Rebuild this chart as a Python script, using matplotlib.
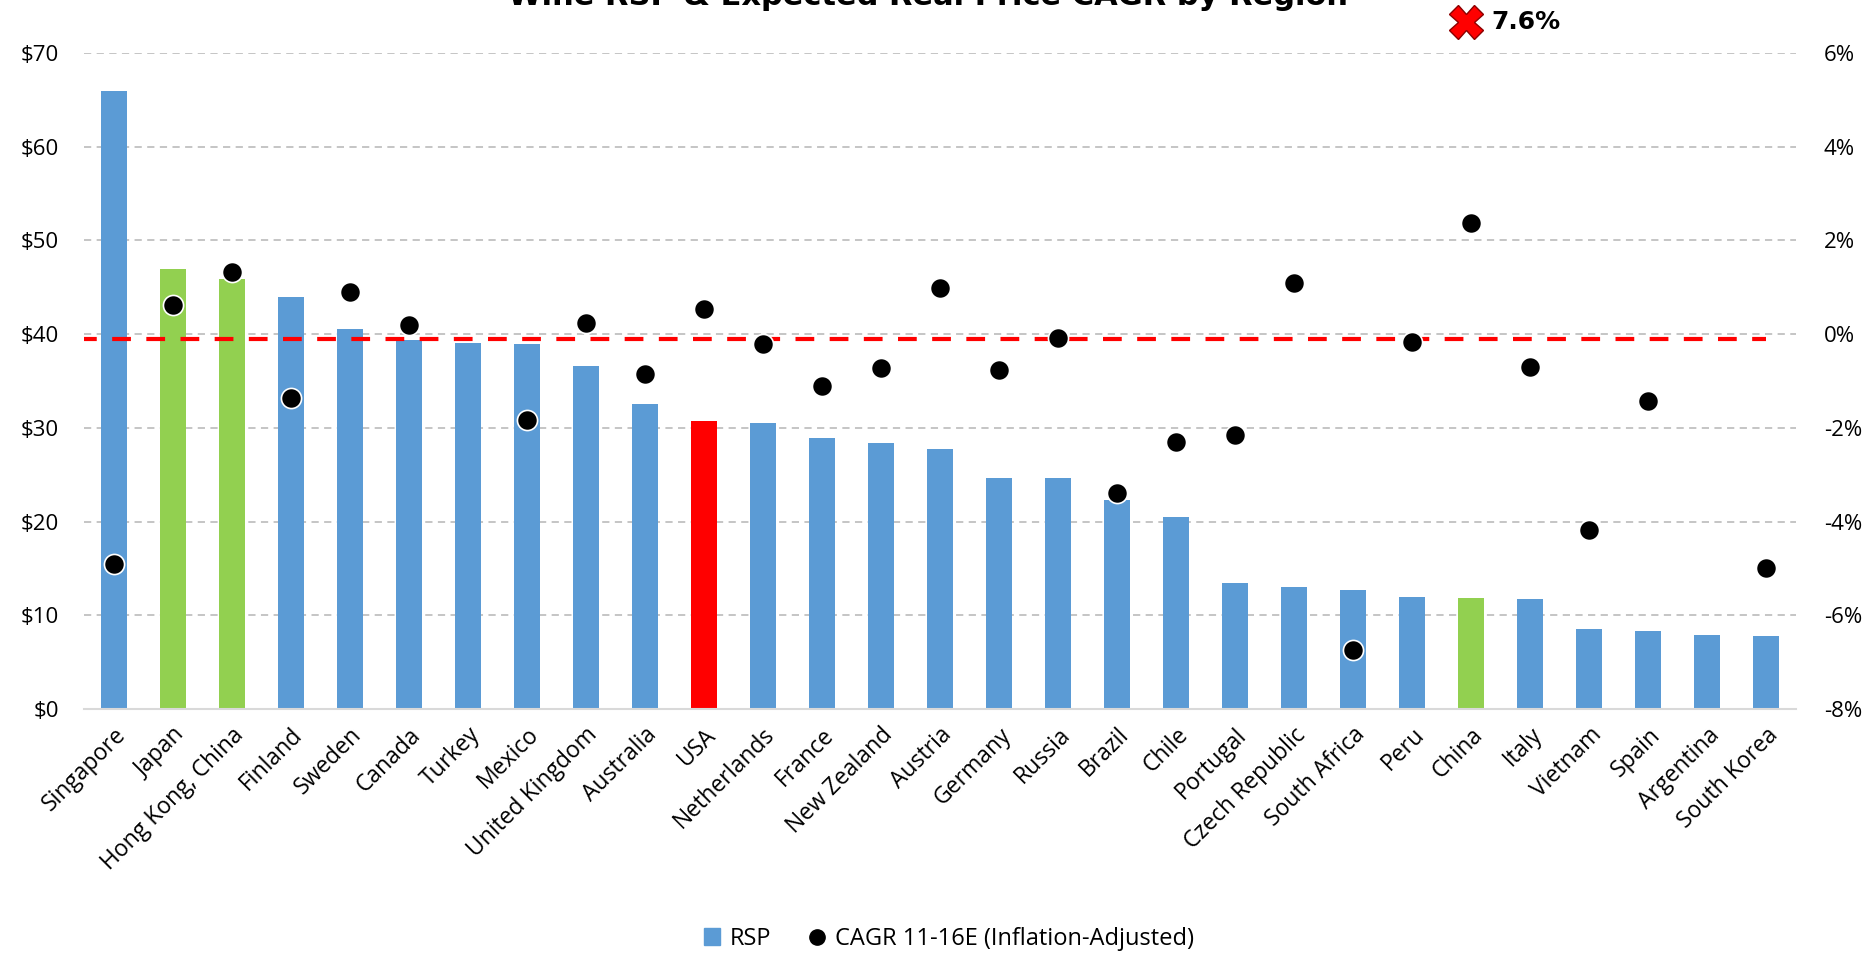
import numpy as np
import matplotlib.pyplot as plt
from matplotlib.patches import Patch
from matplotlib.lines import Line2D

plt.rcParams['font.family'] = ['Open Sans', 'DejaVu Sans']

# retail selling price per bottle (USD) and real price CAGR 2011-16E (%)
regions = ["Singapore", "Japan", "Hong Kong, China", "Finland", "Sweden", "Canada",
           "Turkey", "Mexico", "United Kingdom", "Australia", "USA", "Netherlands",
           "France", "New Zealand", "Austria", "Germany", "Russia", "Brazil", "Chile",
           "Portugal", "Czech Republic", "South Africa", "Peru", "China", "Italy",
           "Vietnam", "Spain", "Argentina", "South Korea"]
rsp = [65.9, 46.9, 45.9, 44.0, 40.5, 39.4, 39.1, 39.0, 36.6, 32.6, 30.7, 30.5,
       28.9, 28.4, 27.8, 24.7, 24.7, 22.3, 20.5, 13.4, 13.0, 12.7, 12.0, 11.9,
       11.7, 8.5, 8.3, 7.9, 7.8]
cagr = [-4.91, 0.62, 1.33, -1.37, 0.90, 0.19, np.nan, -1.83, 0.24, -0.86, 0.54, -0.20,
        -1.11, -0.73, 0.98, -0.76, -0.09, -3.38, -2.31, -2.16, 1.10, -6.75, -0.17, 2.38,
        -0.70, -4.17, -1.42, np.nan, -4.99]
asia_regions = ["Japan", "Hong Kong, China", "China"]
home_region = "USA"
avg_rsp = 39.5
china_outlier = 7.6

x = np.arange(len(regions))
colors = []
for r in regions:
    if r == home_region:
        colors.append("#FF0000")
    elif r in asia_regions:
        colors.append("#92D050")
    else:
        colors.append("#5B9BD5")

fig = plt.figure(figsize=(18.75, 9.74), dpi=100)
ax = fig.add_axes([0.0448, 0.272, 0.913, 0.6736])

ax.bar(x, rsp, width=0.44, color=colors, zorder=2)
ax.hlines(avg_rsp, -0.6, len(regions) - 1, colors="#FF0000", linewidth=3,
          linestyles=(0, (4.5, 3.7)), zorder=3)

ax.set_xlim(-0.5, len(regions) - 0.5)
ax.set_ylim(0, 70)
ax.set_yticks(range(0, 71, 10))
ax.set_yticklabels([r"\$%d" % v for v in range(0, 71, 10)], fontsize=16)
ax.yaxis.grid(True, color="#c0c0c0", linestyle=(0, (4, 3)), linewidth=1.3, zorder=0)
ax.set_axisbelow(True)
ax.tick_params(axis="y", length=0, pad=18)
ax.tick_params(axis="x", length=0, pad=10)
ax.set_xticks(x)
ax.set_xticklabels(regions, rotation=45, ha="right", rotation_mode="anchor", fontsize=16.5)
for s in ["top", "left", "right"]:
    ax.spines[s].set_visible(False)
ax.spines["bottom"].set_color("#d9d9d9")
ax.spines["bottom"].set_linewidth(1.5)

ax2 = ax.twinx()
ax2.set_ylim(-8, 6)
ax2.set_yticks(range(-8, 7, 2))
ax2.set_yticklabels(["%d%%" % v for v in range(-8, 7, 2)], fontsize=16)
ax2.tick_params(axis="y", length=0, pad=20)
for s in ax2.spines.values():
    s.set_visible(False)
ax2.scatter(x, cagr, s=210, color="black", edgecolors="white", linewidths=1.2, zorder=4)

# China's off-scale value marker
ci = regions.index("China")
ax2.plot(ci - 0.08, 6.66, marker="X", markersize=24, color="#FF0000",
         markeredgecolor="#8B0000", markeredgewidth=1, clip_on=False)
ax2.annotate("%.1f%%" % china_outlier, (ci - 0.08, 6.66), xytext=(18, 0),
             textcoords="offset points", va="center", ha="left", fontsize=18,
             fontweight="bold", annotation_clip=False, family="DejaVu Sans")

fig.text(0.495, 0.995, "Wine RSP & Expected Real Price CAGR by Region", ha="center",
         va="baseline", fontsize=22, fontweight="bold", family="DejaVu Sans")

handles = [Patch(color="#5B9BD5"),
           Line2D([], [], marker="o", color="black", linestyle="none", markersize=11)]
fig.legend(handles, ["RSP", "CAGR 11-16E (Inflation-Adjusted)"], loc="center",
           bbox_to_anchor=(0.506, 0.036), ncol=2, frameon=False, fontsize=17,
           handlelength=0.7, handletextpad=0.4, columnspacing=1.6)

fig.savefig("out.png", dpi=100)
